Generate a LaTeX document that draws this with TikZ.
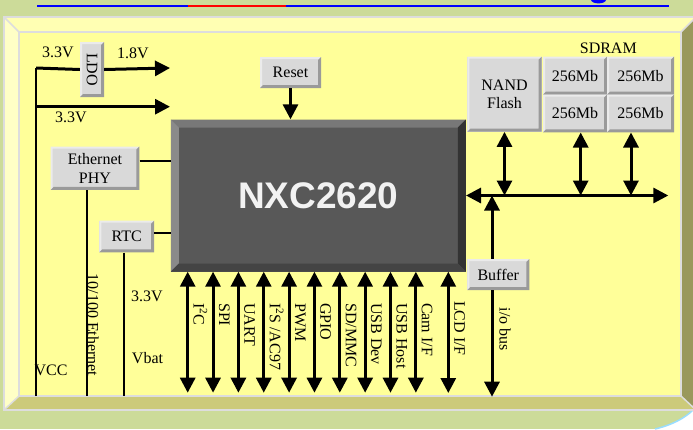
\documentclass[tikz,border=0pt]{standalone}
\usepackage{fontspec}
\setmainfont{Liberation Serif}
\newfontfamily\chipfont{Liberation Sans}
\usepackage{graphicx}
\usepackage{tikz}
\usetikzlibrary{arrows.meta,calc}
\definecolor{pagebg}{HTML}{CCDB99}
\definecolor{panel}{HTML}{FFFF99}
\definecolor{paneltop}{HTML}{FFFFB3}
\definecolor{panelleft}{HTML}{FFFFC6}
\definecolor{panelbot}{HTML}{CCCA7A}
\definecolor{panelright}{HTML}{99985C}
\definecolor{paneledge}{HTML}{DDDDDD}
\definecolor{btnface}{HTML}{D9D9D9}
\definecolor{btnhi}{HTML}{EBEBEB}
\definecolor{btnsh}{HTML}{9A9A9A}
\definecolor{chipface}{HTML}{585858}
\definecolor{chiptop}{HTML}{787878}
\definecolor{chipleft}{HTML}{8A8A8A}
\definecolor{chipright}{HTML}{333333}
\definecolor{chipbot}{HTML}{444444}
\definecolor{chiptext}{HTML}{F2F2F2}
\definecolor{edgeblue}{HTML}{99DDFF}

\begin{document}
\begin{tikzpicture}[x=1pt, y=-1pt, font=\fontsize{16}{18.5}\selectfont,
  >={Triangle[length=15pt, width=15pt]},
  wire/.style={line width=2pt},
  bus/.style={line width=3pt},
  lbl/.style={rotate=-90, anchor=west, inner sep=0pt, text height=10.6pt, text depth=0pt},
  btn/.style={fill=btnface, inner sep=0pt, align=center, path picture={
    \coordinate (bsw) at (path picture bounding box.south west);
    \coordinate (bse) at (path picture bounding box.south east);
    \coordinate (bnw) at (path picture bounding box.north west);
    \coordinate (bne) at (path picture bounding box.north east);
    \fill[btnhi] (bsw) -- (bnw) -- (bne) -- ++(-2pt,-2pt) -| ($(bsw)+(2pt,2pt)$) -- cycle;
    \fill[btnsh] (bsw) -- (bse) -- (bne) -- ++(-3pt,-3pt) |- ($(bsw)+(3pt,3pt)$) -- cycle;}},
  chipbox/.style={fill=chipface, text=chiptext, font=\chipfont\bfseries\fontsize{37}{40}\selectfont, path picture={
    \coordinate (bsw) at (path picture bounding box.south west);
    \coordinate (bse) at (path picture bounding box.south east);
    \coordinate (bnw) at (path picture bounding box.north west);
    \coordinate (bne) at (path picture bounding box.north east);
    \fill[chiptop] (bnw) -- (bne) -- ++(-8pt,-8pt) -- ($(bnw)+(8pt,-8pt)$) -- cycle;
    \fill[chipleft] (bnw) -- (bsw) -- ++(8pt,8pt) -- ($(bnw)+(8pt,-8pt)$) -- cycle;
    \fill[chipright] (bne) -- (bse) -- ++(-8pt,8pt) -- ($(bne)+(-8pt,-8pt)$) -- cycle;
    \fill[chipbot] (bsw) -- (bse) -- ++(-8pt,8pt) -- ($(bsw)+(8pt,8pt)$) -- cycle;}}]
  \useasboundingbox (0,0) rectangle (693,429);
  % page and bevelled panel
  \fill[pagebg] (0,0) rectangle (693,429);
  \draw[blue, line width=2pt] (37,5.7) -- (669,5.7);
  \draw[red, line width=2pt] (188,5.7) -- (286,5.7);
  \fill[blue] (591,0) .. controls (592,4.5) and (605,4.5) .. (606,0) -- cycle;
  \fill[white] (655,429) .. controls (672,425) and (685,418) .. (693,410) -- (693,429) -- cycle;
  \draw[edgeblue, line width=1.5pt] (655,429) .. controls (672,425) and (685,418) .. (693,410);
  \fill[paneltop] (4,17) -- (696,17) -- (681,32) -- (19,32) -- cycle;
  \fill[panelleft] (4,17) -- (19,32) -- (19,396) -- (4,410) -- cycle;
  \fill[panelbot] (4,410) -- (19,396) -- (681,396) -- (696,410) -- cycle;
  \fill[panelright] (696,17) -- (681,32) -- (681,396) -- (696,410) -- cycle;
  \fill[panel] (19,32) rectangle (681,396);
  \draw[paneledge, line width=1.5pt] (4,17) rectangle (696,410) (19,32) rectangle (681,396);
  \draw[paneledge, line width=1.5pt] (4,17) -- (19,32) (696,17) -- (681,32) (4,410) -- (19,396) (696,410) -- (681,396);

  % blocks
  \node[chipbox, minimum width=295pt, minimum height=152pt] (chip) at (318.3,195.5) {NXC2620};
  \node[btn, minimum width=61pt, minimum height=31pt] (reset) at (290.5,72.5) {Reset};
  \node[btn, minimum width=24pt, minimum height=55pt] (ldo) at (92,69.5) {\rotatebox{-90}{LDO}};
  \node[btn, minimum width=88.6pt, minimum height=43.3pt] (eth) at (95,168.3) {Ethernet\\PHY};
  \node[btn, minimum width=54.7pt, minimum height=31.6pt] (rtc) at (126.7,236.5) {RTC};
  \node[btn, minimum width=74.4pt, minimum height=75pt] (nand) at (504.5,94.2) {NAND\\Flash};
  \node[btn, minimum width=64pt, minimum height=37.8pt] (sdA) at (575,75.6) {256Mb};
  \node[btn, minimum width=67pt, minimum height=37.8pt] (sdB) at (640.5,75.6) {256Mb};
  \node[btn, minimum width=64pt, minimum height=37.8pt] (sdC) at (575,113.4) {256Mb};
  \node[btn, minimum width=67pt, minimum height=37.8pt] (sdD) at (640.5,113.4) {256Mb};
  \node (sdram) at (608.3,48.3) {SDRAM};
  \node[btn, minimum width=62pt, minimum height=31pt] (buffer) at (498.3,274.5) {Buffer};

  % power, reset and side links
  \coordinate (vcctop) at (36,68);
  \coordinate (vccbot) at (36,396);
  \coordinate (out18) at (170,68);
  \coordinate (out33) at (170,106.7);
  \coordinate (ethbot) at (86.7,396);
  \coordinate (rtcbot) at (124.3,396);
  \coordinate (ethlink) at ($(eth.east)+(0,-7)$);
  \coordinate (rtclink) at ($(rtc.east)+(0,-4)$);
  \draw[wire] (vccbot) -- (vcctop);
  \draw[bus] (vcctop) -- (ldo.west);
  \draw[bus, ->] (ldo.east) -- (out18);
  \draw[bus, ->] (vcctop |- out33) -- (out33);
  \draw[bus, ->] (reset.south) -- (reset.south |- chip.north);
  \draw[wire] (ethlink) -- (ethlink -| chip.west);
  \draw[wire] (ethbot |- eth.south) -- (ethbot);
  \draw[wire] (rtclink) -- (rtclink -| chip.west);
  \draw[wire] (rtcbot |- rtc.south) -- (rtcbot);
  \node at (58,52.7) {3.3V};
  \node at (133,53) {1.8V};
  \node at (71,117) {3.3V};
  \node at (51,370) {VCC};
  \node at (147,296) {3.3V};
  \node at (147.5,358) {Vbat};
  \node[rotate=-90] at (93,325) {10/100 Ethernet};

  % peripheral buses
  \foreach \lbl [count=\i from 0] in {I\textsuperscript{2}C, SPI, UART, I\textsuperscript{2}S /AC97, PWM, GPIO, {SD/MMC}, USB Dev, USB Host, {Cam I/F}} {
    \coordinate (pin\i) at (187.7+25.35*\i, 392.7);
    \draw[bus, <->] (pin\i |- chip.south) -- (pin\i);
    \node[lbl] at ($(pin\i |- 0,303)+(11.3,0)$) {\lbl};
  }
  \coordinate (lcd) at (448.3,393);
  \draw[bus, <->] (lcd |- chip.south) -- (lcd);
  \node[lbl] at ($(lcd |- 0,301)+(11.3,0)$) {LCD I/F};

  % memory bus
  \coordinate (busend) at (668.3,195.5);
  \coordinate (memA) at (580.7,195.5);
  \coordinate (memB) at (631,195.5);
  \coordinate (iotop) at (492,195.5);
  \coordinate (iobot) at (492,396.7);
  \draw[bus, <->] (chip.east) -- (busend);
  \draw[bus, <->] (nand.south) -- (nand.south |- chip.east);
  \draw[bus, <->] (memA |- sdC.south) -- (memA);
  \draw[bus, <->] (memB |- sdD.south) -- (memB);
  \draw[bus, ->] (iotop |- buffer.north) -- (iotop);
  \draw[bus, ->] (iotop |- buffer.south) -- (iobot);
  \node[lbl] at ($(iobot |- 0,307.7)+(13,0)$) {i/o bus};
\end{tikzpicture}
\end{document}
